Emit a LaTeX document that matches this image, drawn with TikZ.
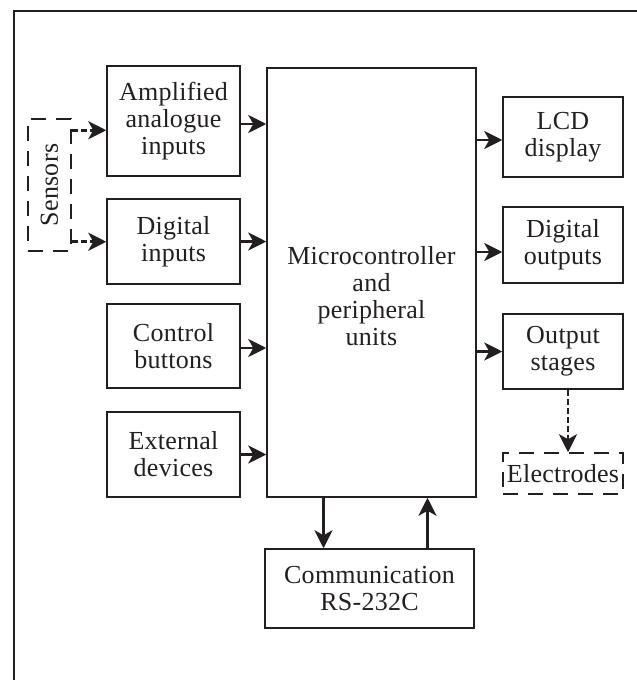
\documentclass[tikz,border=0pt]{standalone}
\usepackage{fontspec}
\setmainfont{Liberation Serif}[LetterSpace=1]
\usepackage{tikz}
\usetikzlibrary{arrows.meta}
\definecolor{ink}{HTML}{231F20}
\tikzset{
  box/.style={draw=ink, line width=0.75pt, inner sep=0pt, align=center, text=ink,
    font=\fontsize{13pt}{13.5pt}\selectfont},
  dbox/.style={box, dash pattern=on 7.5pt off 5pt},
  arr/.style={draw=ink, line width=1.4pt, -{Stealth[length=9pt,width=9pt,inset=2.5pt]}},
  darr/.style={arr, dash pattern=on 3pt off 1.5pt}
}

\begin{document}
\begin{tikzpicture}[x=0.5pt, y=-0.5pt]
                \useasboundingbox (0,0) rectangle (637,680);
                \draw[ink, line width=1pt] (14,680) -- (14,11) -- (637,11);

                % inputs
                \node[box, minimum width=66.5pt, minimum height=55pt] (amp) at (173.5,121) {Amplified\\analogue\\inputs};
                \node[box, minimum width=66.5pt, minimum height=42.5pt] (digin) at (173.5,241.5) {Digital\\inputs};
                \node[box, minimum width=66.5pt, minimum height=42pt] (ctrl) at (173.5,346) {Control\\buttons};
                \node[box, minimum width=66.5pt, minimum height=42.5pt] (ext) at (173.5,454.5) {External\\devices};
                \node[dbox, minimum width=21.5pt, minimum height=66pt] (sen) at (49.5,185) {};
                \node[text=ink, rotate=90, font=\fontsize{13pt}{13.5pt}\selectfont] (sentxt) at (sen.center) {Sensors};

                % controller
                \node[box, minimum width=104.5pt, minimum height=214.5pt] (micro) at (371.5,282.5) {};
                \node[box, draw=none] (microtxt) at ([yshift=-7pt]micro.center) {Microcontroller\\and\\peripheral\\units};

                % outputs
                \node[box, minimum width=60pt, minimum height=40pt] (lcd) at (563,137) {LCD\\display};
                \node[box, minimum width=60pt, minimum height=38pt] (digout) at (563,245) {Digital\\outputs};
                \node[box, minimum width=60pt, minimum height=37.5pt] (outst) at (563,351.5) {Output\\stages};
                \node[dbox, minimum width=60pt, minimum height=20.5pt] (elec) at (563,473.5) {Electrodes};
                \node[box, minimum width=104.5pt, minimum height=39.5pt] (comm) at (369.5,588.5) {Communication\\RS-232C};

                \draw[darr] ([yshift=-6pt]sen.north east) -- ([yshift=-6pt]sen.north east -| amp.west);
                \draw[darr] ([yshift=5pt]sen.south east) -- ([yshift=5pt]sen.south east -| digin.west);

                \draw[arr] ([yshift=-1.5pt]amp.east) -- ([yshift=-1.5pt]amp.east -| micro.west);
                \draw[arr] (digin.east) -- (digin.east -| micro.west);
                \draw[arr] ([yshift=-1pt]ctrl.east) -- ([yshift=-1pt]ctrl.east -| micro.west);
                \draw[arr] (ext.east) -- (ext.east -| micro.west);

                \draw[arr] ([yshift=-1.5pt]lcd.west -| micro.east) -- ([yshift=-1.5pt]lcd.west);
                \draw[arr] ([yshift=-3.5pt]digout.west -| micro.east) -- ([yshift=-3.5pt]digout.west);
                \draw[arr] (outst.west -| micro.east) -- (outst.west);
                \draw[darr] ([xshift=2.5pt]outst.south) -- ([xshift=2.5pt]elec.north);

                \draw[arr] ([xshift=-24pt]micro.south) -- ([xshift=-24pt]micro.south |- comm.north);
                \draw[arr] ([xshift=28pt]micro.south |- comm.north) -- ([xshift=28pt]micro.south);
\end{tikzpicture}
\end{document}
